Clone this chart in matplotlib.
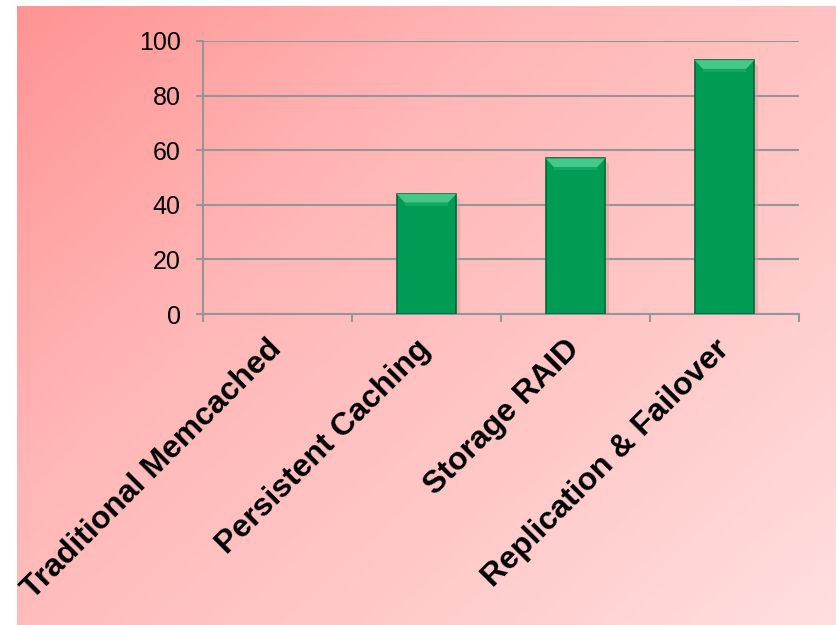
import numpy as np
from matplotlib import pyplot as plt
from matplotlib.colors import LinearSegmentedColormap

categories=['Traditional Memcached','Persistent Caching','Storage RAID','Replication & Failover']
values=[0,44,57,93]
yticks=[0,20,40,60,80,100]

plt.rcParams['font.family']=['Liberation Sans','DejaVu Sans']

fig=plt.figure(figsize=(8.36,6.25),dpi=100)

# pink diagonal gradient panel behind the chart
bg=fig.add_axes([17/836,-0.02,1.0,619/625+0.02])
bg.set_axis_off()
gx,gy=np.meshgrid(np.linspace(0,1,300),np.linspace(0,1,300))
grad=(gx*0.55+gy*0.45)
cmap=LinearSegmentedColormap.from_list('pinks',['#ff9494','#ffb6b6','#ffc9c9','#ffe0e0'])
bg.imshow(grad,cmap=cmap,aspect='auto',extent=[0,1,0,1],origin='upper')

ax=fig.add_axes([203/836,1-314/625,596/836,273/625])
ax.set_facecolor('none')
x=np.arange(len(categories))
w=0.4
edges=['#00683a' if v>0 else 'none' for v in values]
ax.bar(x,values,width=w,color='#009b55',edgecolor=edges,linewidth=1.2,zorder=3)

# bevel highlight on the top of each bar
for xi,v in zip(x,values):
    if v<=0:
        continue
    bh=3.2
    ins=0.055
    ax.fill([xi-w/2,xi+w/2,xi+w/2-ins,xi-w/2+ins],[v,v,v-bh,v-bh],color='#45c98a',zorder=4,lw=0)
    ax.fill([xi-w/2+ins,xi+w/2-ins,xi+w/2-ins,xi-w/2+ins],[v-bh,v-bh,v-bh-1.2,v-bh-1.2],color='#12a863',zorder=4,lw=0)
    ax.fill([xi+w/2,xi+w/2+0.025,xi+w/2+0.025,xi+w/2],[v-1,v-2,0,0],color='#d49a9a',alpha=0.5,zorder=2,lw=0)

ax.set_xlim(-0.5,len(categories)-0.5)
ax.set_ylim(0,100)
ax.set_yticks(yticks)
ax.yaxis.grid(True,color='#969696',linewidth=1.5,zorder=1)
ax.set_axisbelow(True)
for s in ['top','right']:
    ax.spines[s].set_visible(False)
for s in ['left','bottom']:
    ax.spines[s].set_color('#969696')
    ax.spines[s].set_linewidth(1.5)
    ax.spines[s].set_zorder(2)
ax.tick_params(axis='y',length=5,width=1.5,color='#969696',pad=11,labelsize=18)

ax.set_xticks(x)
ax.set_xticks(np.arange(-0.5,len(categories),1),minor=True)
ax.tick_params(axis='x',which='major',length=0,pad=22)
ax.tick_params(axis='x',which='minor',length=6,width=1.5,color='#969696')
ax.set_xticklabels(categories,rotation=45,ha='right',va='center',rotation_mode='anchor',
                   fontsize=23,fontweight='bold')

fig.savefig('out.png',dpi=100,facecolor='white')
